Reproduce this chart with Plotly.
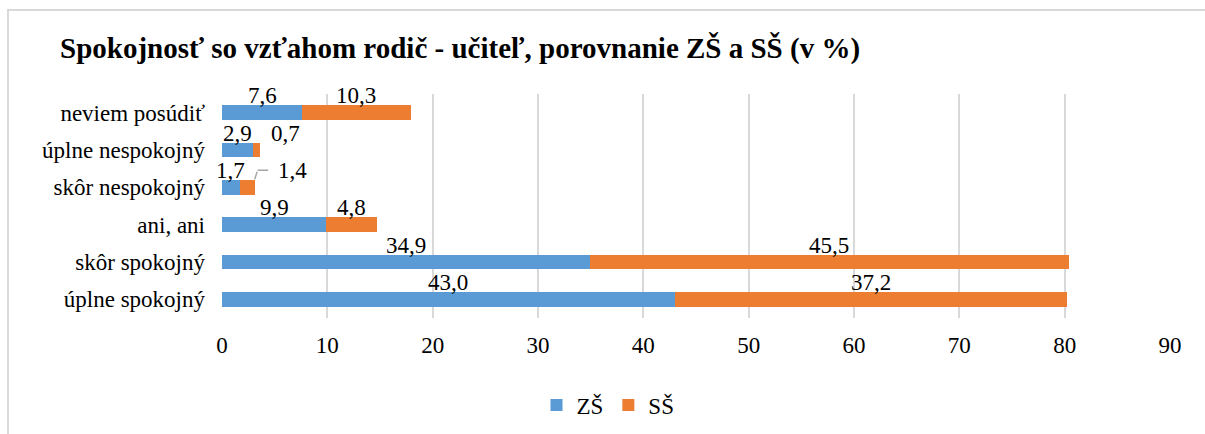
import plotly.graph_objects as go

categories = ["úplne spokojný", "skôr spokojný", "ani, ani", "skôr nespokojný",
              "úplne nespokojný", "neviem posúdiť"]
zs_values = [43.0, 34.9, 9.9, 1.7, 2.9, 7.6]
ss_values = [37.2, 45.5, 4.8, 1.4, 0.7, 10.3]
series_names = ["ZŠ", "SŠ"]
x_ticks = [0, 10, 20, 30, 40, 50, 60, 70, 80, 90]

BLUE = "#5B9BD5"
ORANGE = "#ED7D31"
FONT = "'Liberation Serif', Tinos, 'Times New Roman', 'DejaVu Serif', serif"
FS = 23

W, H = 1205, 434
L, R, T, B = 222, 35, 94, 116
PW, PH = W - L - R, H - T - B


def px_x(px):
    return (px - L) / PW


def px_y(py):
    return (H - B - py) / PH


fig = go.Figure()
for name, vals, col in [(series_names[0], zs_values, BLUE), (series_names[1], ss_values, ORANGE)]:
    fig.add_trace(go.Bar(
        y=categories, x=vals, name=name, orientation="h",
        marker=dict(color=col, line=dict(width=0)),
        hoverinfo="x+name",
    ))

label_offset = {(1, 3): (45, 0), (1, 4): (29, 0)}
annotations = []
for i, cat in enumerate(categories):
    base = 0.0
    for s, vals in enumerate([zs_values, ss_values]):
        v = vals[i]
        center = base + v / 2
        base += v
        txt = f"{v:.1f}".replace(".", ",")
        dx, dy = label_offset.get((s, i), (0, 0))
        annotations.append(dict(
            x=center, y=cat, xref="x", yref="y", text=txt, showarrow=False,
            xshift=dx, yshift=17 + dy, font=dict(family=FONT, size=FS, color="#000000"),
        ))

# elbow leader line for the displaced small label (starts at the bar end)
i = 3
tip = zs_values[i] + ss_values[i]
annotations.append(dict(
    x=tip, y=categories[i], xref="x", yref="y", ax=3, ay=-9,
    text="", showarrow=True, arrowhead=0, arrowwidth=1.5, arrowcolor="#A6A6A6",
    yshift=8, standoff=0,
))
annotations.append(dict(
    x=tip, y=categories[i], xref="x", yref="y", ax=12, ay=0,
    text="", showarrow=True, arrowhead=0, arrowwidth=1.5, arrowcolor="#A6A6A6",
    yshift=17, xshift=3, standoff=0,
))

annotations.append(dict(
    x=px_x(58), y=px_y(48), xref="paper", yref="paper", xanchor="left", yanchor="middle",
    text="<b>Spokojnosť so vzťahom rodič - učiteľ, porovnanie ZŠ a SŠ (v %)</b>",
    showarrow=False, font=dict(family=FONT, size=29, color="#000000"),
))
annotations.append(dict(
    x=px_x(0), y=px_y(7), xref="paper", yref="paper", xanchor="left", yanchor="bottom",
    text="<b>Graf 1.</b>", showarrow=False, font=dict(family=FONT, size=24, color="#000000"),
))

shapes = [dict(
    type="path", xref="paper", yref="paper",
    path=f"M {px_x(8)} {px_y(H + 5)} L {px_x(8)} {px_y(10)} L {px_x(W + 5)} {px_y(10)}",
    line=dict(color="#D9D9D9", width=2),
)]

fig.update_layout(
    template="none",
    width=W, height=H,
    barmode="stack", bargap=0.6,
    margin=dict(l=L, r=R, t=T, b=B, autoexpand=False),
    paper_bgcolor="white", plot_bgcolor="white",
    font=dict(family=FONT, size=FS, color="#000000"),
    xaxis=dict(range=[0, 90], tickvals=x_ticks, showgrid=True, gridcolor="#D9D9D9",
               gridwidth=1.5, zeroline=False, showline=False, ticks="", automargin=False,
               tickfont=dict(family=FONT, size=FS, color="#000000"),
               ticklabelstandoff=11),
    yaxis=dict(categoryorder="array", categoryarray=categories, range=[-0.5, 5.5],
               showgrid=False, zeroline=False, showline=False, ticks="",
               ticklabelstandoff=16, automargin=False,
               tickfont=dict(family=FONT, size=FS, color="#000000")),
    legend=dict(orientation="h", x=px_x(608), xanchor="center", y=px_y(405), yanchor="middle",
                font=dict(family=FONT, size=FS, color="#000000"),
                traceorder="normal", itemwidth=30),
    annotations=annotations,
    shapes=shapes,
    showlegend=True,
)

fig.write_html("out.html", config={"displayModeBar": False},
               post_script="document.body.style.margin='0';")
